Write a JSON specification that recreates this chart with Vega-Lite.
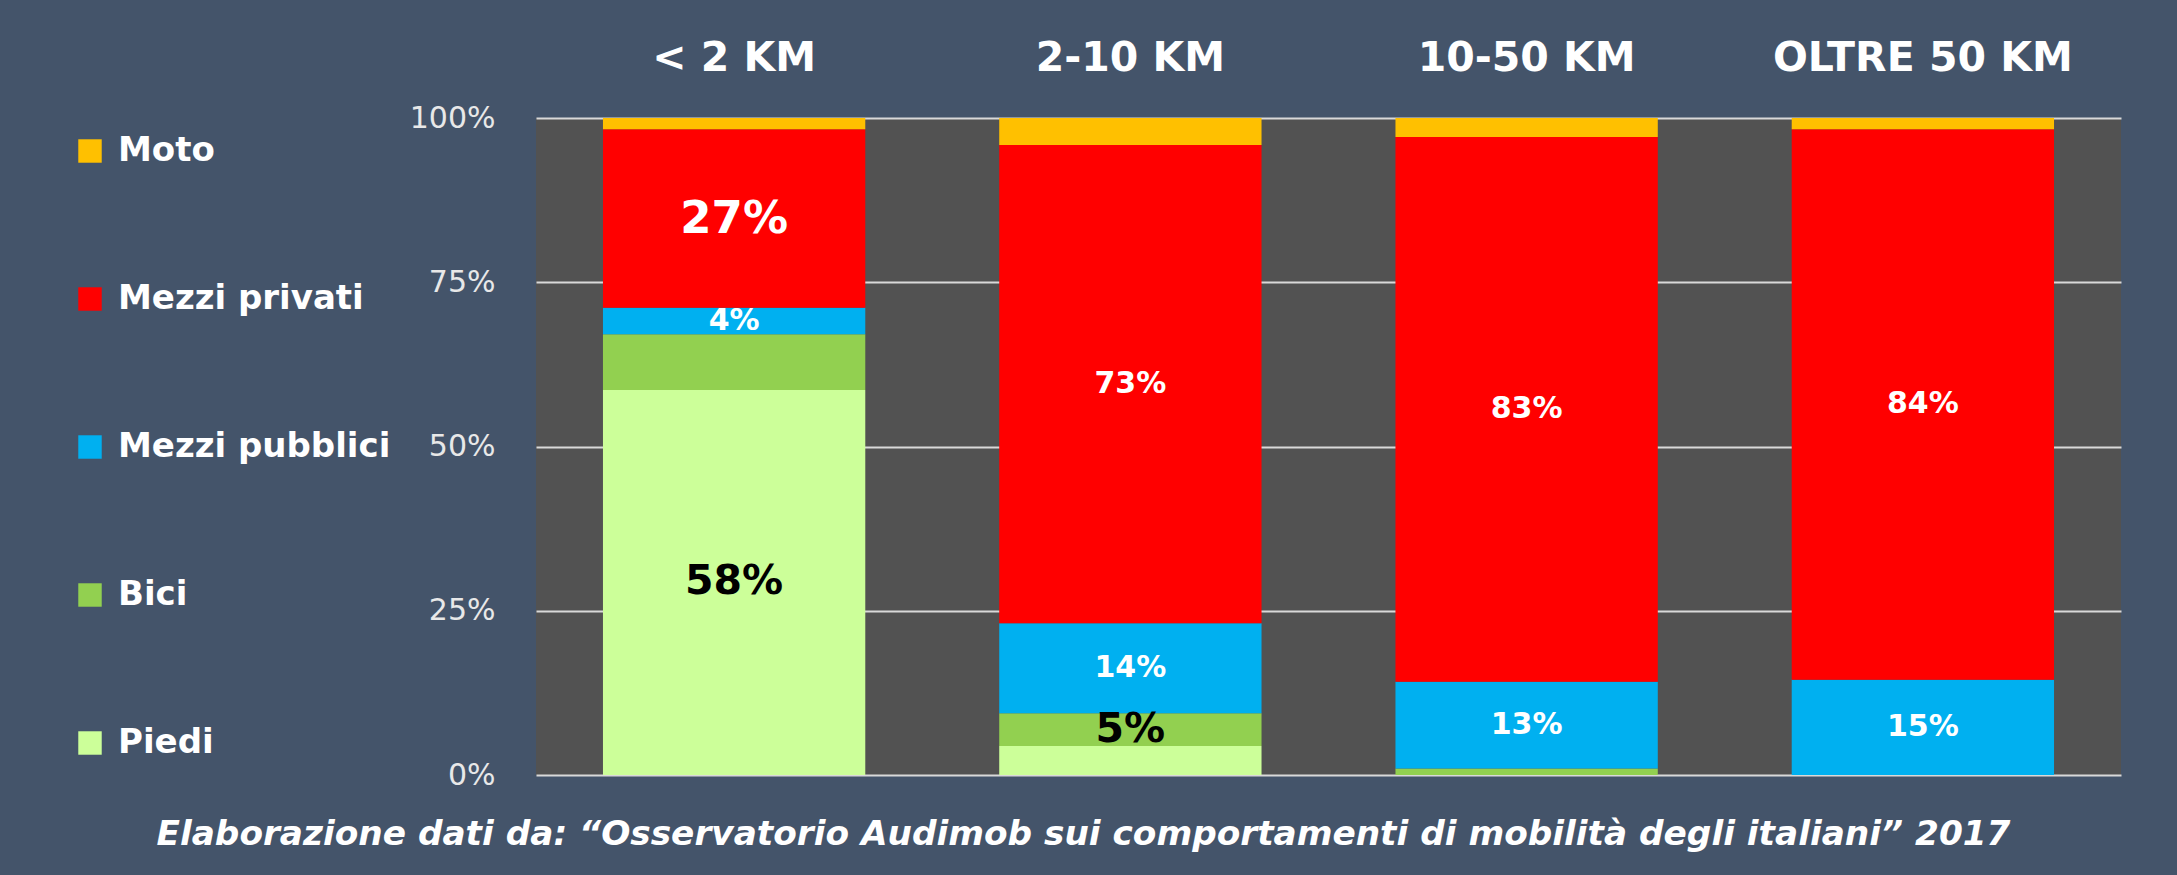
{
  "$schema": "https://vega.github.io/schema/vega-lite/v6.json",
  "width": 1585,
  "height": 657,
  "autosize": {"type": "none"},
  "padding": {"left": 536, "top": 118, "right": 56, "bottom": 100},
  "background": "#44546A",
  "view": {"fill": "#525252", "stroke": null},
  "config": {"font": "DejaVu Sans"},
  "title": {
    "text": "Elaborazione dati da: “Osservatorio Audimob sui comportamenti di mobilità degli italiani” 2017",
    "orient": "bottom",
    "anchor": "middle",
    "frame": "group",
    "font": "DejaVu Sans",
    "fontSize": 34.3,
    "fontWeight": "bold",
    "fontStyle": "italic",
    "color": "#FFFFFF",
    "offset": 28,
    "dx": -245
  },
  "data": {
    "values": [
      {"dist": "< 2 KM", "mode": "Piedi", "pct": 58.6, "label": "58%"},
      {"dist": "< 2 KM", "mode": "Bici", "pct": 8.5, "label": ""},
      {"dist": "< 2 KM", "mode": "Mezzi pubblici", "pct": 4.0, "label": "4%"},
      {"dist": "< 2 KM", "mode": "Mezzi privati", "pct": 27.2, "label": "27%"},
      {"dist": "< 2 KM", "mode": "Moto", "pct": 1.7, "label": ""},
      {"dist": "2-10 KM", "mode": "Piedi", "pct": 4.4, "label": ""},
      {"dist": "2-10 KM", "mode": "Bici", "pct": 5.0, "label": "5%"},
      {"dist": "2-10 KM", "mode": "Mezzi pubblici", "pct": 13.7, "label": "14%"},
      {"dist": "2-10 KM", "mode": "Mezzi privati", "pct": 72.8, "label": "73%"},
      {"dist": "2-10 KM", "mode": "Moto", "pct": 4.1, "label": ""},
      {"dist": "10-50 KM", "mode": "Bici", "pct": 1.0, "label": ""},
      {"dist": "10-50 KM", "mode": "Mezzi pubblici", "pct": 13.2, "label": "13%"},
      {"dist": "10-50 KM", "mode": "Mezzi privati", "pct": 82.9, "label": "83%"},
      {"dist": "10-50 KM", "mode": "Moto", "pct": 2.9, "label": ""},
      {"dist": "OLTRE 50 KM", "mode": "Mezzi pubblici", "pct": 14.5, "label": "15%"},
      {"dist": "OLTRE 50 KM", "mode": "Mezzi privati", "pct": 83.8, "label": "84%"},
      {"dist": "OLTRE 50 KM", "mode": "Moto", "pct": 1.7, "label": ""}
    ]
  },
  "transform": [
    {"calculate": "indexof(['Piedi','Bici','Mezzi pubblici','Mezzi privati','Moto'], datum.mode)", "as": "ord"},
    {"stack": "pct", "groupby": ["dist"], "sort": [{"field": "ord", "order": "ascending"}], "as": ["y0", "y1"]},
    {"calculate": "(datum.y0 + datum.y1) / 2", "as": "ymid"}
  ],
  "layer": [
    {
      "mark": {"type": "bar"},
      "encoding": {
        "x": {
          "field": "dist",
          "type": "nominal",
          "sort": ["< 2 KM", "2-10 KM", "10-50 KM", "OLTRE 50 KM"],
          "scale": {"paddingInner": 0.338, "paddingOuter": 0.169},
          "axis": {
            "orient": "top",
            "title": null,
            "labelAngle": 0,
            "ticks": false,
            "tickSize": 0,
            "domain": false,
            "grid": false,
            "labelFont": "DejaVu Sans",
            "labelFontWeight": "bold",
            "labelFontSize": 41,
            "labelColor": "#FFFFFF",
            "labelPadding": 39,
            "labelLimit": 500
          }
        },
        "y": {
          "field": "y0",
          "type": "quantitative",
          "scale": {"domain": [0, 100], "nice": false},
          "axis": {
            "values": [0, 25, 50, 75, 100],
            "labelExpr": "datum.value + '%'",
            "title": null,
            "ticks": false,
            "tickSize": 0,
            "domain": false,
            "grid": true,
            "gridColor": "#D9D9D9",
            "gridWidth": 2,
            "labelFont": "DejaVu Sans",
            "labelFontSize": 30,
            "labelColor": "#E8E8E8",
            "labelPadding": 41,
            "labelFlush": false,
            "labelOverlap": false
          }
        },
        "y2": {"field": "y1"},
        "color": {
          "field": "mode",
          "type": "nominal",
          "scale": {
            "domain": ["Moto", "Mezzi privati", "Mezzi pubblici", "Bici", "Piedi"],
            "range": ["#FFC000", "#FF0000", "#00B0F0", "#92D050", "#CCFF99"]
          },
          "legend": {
            "title": null,
            "orient": "none",
            "legendX": -463,
            "legendY": 16,
            "direction": "vertical",
            "symbolType": "square",
            "symbolSize": 550,
            "symbolStrokeWidth": 0,
            "symbolOpacity": 1,
            "labelFont": "DejaVu Sans",
            "labelFontWeight": "bold",
            "labelFontSize": 34,
            "labelColor": "#FFFFFF",
            "labelOffset": 11,
            "labelLimit": 500,
            "rowPadding": 114,
            "padding": 0
          }
        }
      }
    },
    {
      "transform": [{"filter": "datum.label != ''"}],
      "mark": {"type": "text", "font": "DejaVu Sans", "fontWeight": "bold", "baseline": "middle"},
      "encoding": {
        "x": {"field": "dist", "type": "nominal", "sort": ["< 2 KM", "2-10 KM", "10-50 KM", "OLTRE 50 KM"]},
        "y": {"field": "ymid", "type": "quantitative"},
        "text": {"field": "label"},
        "color": {
          "condition": {"test": "datum.mode === 'Piedi' || datum.mode === 'Bici'", "value": "#000000"},
          "value": "#FFFFFF"
        },
        "size": {
          "condition": [
            {"test": "datum.label === '27%'", "value": 45},
            {"test": "datum.label === '58%' || datum.label === '5%'", "value": 41}
          ],
          "value": 30
        }
      }
    }
  ]
}
